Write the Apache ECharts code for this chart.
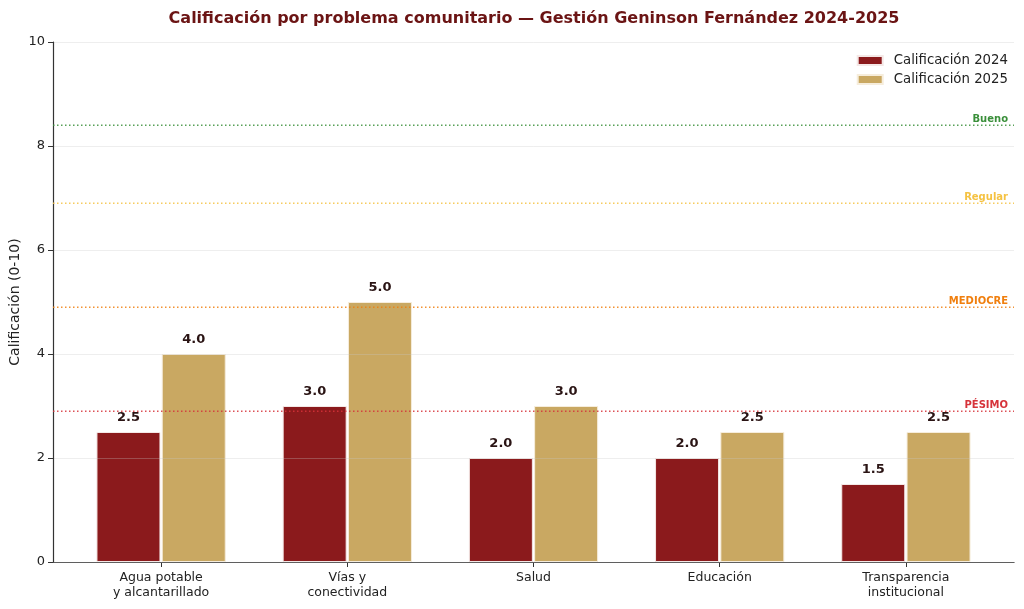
<!DOCTYPE html>
<html><head><meta charset="utf-8">
<script src="https://cdn.jsdelivr.net/npm/echarts@6/dist/echarts.min.js"></script>
<style>html,body{margin:0;padding:0;background:#fff}#c{width:1024px;height:609px}</style>
</head><body><div id="c"></div>
<script>
const categories = ['Agua potable\ny alcantarillado', 'Vías y\nconectividad', 'Salud', 'Educación', 'Transparencia\ninstitucional'];
const values2024 = [2.5, 3.0, 2.0, 2.0, 1.5];
const values2025 = [4.0, 5.0, 3.0, 2.5, 2.5];
const thresholdNames = ['Bueno', 'Regular', 'MEDIOCRE', 'PÉSIMO'];
const thresholdValues = [8.4, 6.9, 4.9, 2.9];
const thresholdColors = ['#3a8f3a', '#f5c242', '#f07f0e', '#d6333a'];
const yTicks = [0, 2, 4, 6, 8, 10];

const FONT = 'DejaVu Sans';
const chart = echarts.init(document.getElementById('c'));
const valLabel = {
  show: true, position: 'top', distance: 8,
  formatter: p => p.value.toFixed(1),
  fontFamily: FONT, fontWeight: 'bold', fontSize: 13, color: '#2a1414'
};
const thresholdSeries = thresholdValues.map((v, i) => ({
  name: 'umbral' + i, type: 'line', xAxisIndex: 0, yAxisIndex: 0, z: 6, silent: true,
  showSymbol: false, symbol: 'none', color: thresholdColors[i],
  lineStyle: { color: thresholdColors[i], type: [1.5, 2.5], width: 1.4, opacity: 0.85 },
  data: [[0, v], [1, v]],
  markLine: {
    symbol: 'none', silent: true,
    lineStyle: { width: 0, color: 'rgba(0,0,0,0)' },
    label: { show: true, position: 'insideEndTop', formatter: thresholdNames[i], distance: [6, 1],
             color: thresholdColors[i], fontFamily: FONT, fontWeight: 'bold', fontSize: 10 },
    data: [{ yAxis: v }]
  }
}));
chart.setOption({
  animation: false,
  textStyle: { fontFamily: FONT },
  title: {
    text: 'Calificación por problema comunitario — Gestión Geninson Fernández 2024-2025',
    left: 529, top: 6, textAlign: 'center',
    textStyle: { fontFamily: FONT, fontWeight: 'bold', fontSize: 16, color: '#6b1414' }
  },
  legend: {
    right: 11, top: 49, orient: 'vertical', itemWidth: 25, itemHeight: 9, itemGap: 6, icon: 'rect',
    textStyle: { fontFamily: FONT, fontSize: 13.3, color: '#222', padding: [0, 0, 0, 6] },
    data: ['Calificación 2024', 'Calificación 2025']
  },
  grid: [
    { left: 53, right: 10, top: 42, bottom: 47, outerBoundsMode: 'none' },
    { left: 68, right: 25, top: 42, bottom: 47, outerBoundsMode: 'none' }
  ],
  xAxis: [
    { type: 'value', gridIndex: 0, min: 0, max: 1, axisLabel: { show: false }, axisTick: { show: false }, splitLine: { show: false },
      axisLine: { show: true, onZero: false, lineStyle: { color: '#333', width: 1.2 } } },
    { type: 'category', gridIndex: 1, data: categories,
      axisLine: { show: false }, axisTick: { show: true, alignWithLabel: true, length: 5, lineStyle: { color: '#333' } },
      axisLabel: { fontFamily: FONT, fontSize: 12.5, color: '#222', lineHeight: 15, margin: 8 } }
  ],
  yAxis: [
    { type: 'value', gridIndex: 0, min: 0, max: 10, interval: 2, z: 5,
      name: 'Calificación (0-10)', nameLocation: 'middle', nameGap: 31, nameRotate: 90, nameMoveOverlap: false,
      nameTextStyle: { fontFamily: FONT, fontSize: 14, color: '#222' },
      axisLine: { show: true, lineStyle: { color: '#333', width: 1.2 } },
      axisTick: { show: true, length: 5, lineStyle: { color: '#333' } },
      axisLabel: { fontFamily: FONT, fontSize: 13, color: '#222', margin: 8, formatter: v => yTicks.includes(v) ? String(v) : '' },
      splitLine: { show: true, lineStyle: { color: 'rgba(200,200,200,0.3)', width: 1 } } },
    { type: 'value', gridIndex: 1, min: 0, max: 10, interval: 2, show: false }
  ],
  series: [
    { name: 'Calificación 2024', type: 'bar', xAxisIndex: 1, yAxisIndex: 1, data: values2024,
      barWidth: 64, barGap: '2%', z: 2,
      itemStyle: { color: '#8b1a1c', borderColor: '#f4e8e6', borderWidth: 1 }, label: valLabel },
    { name: 'Calificación 2025', type: 'bar', xAxisIndex: 1, yAxisIndex: 1, data: values2025,
      barWidth: 64, barGap: '2%', z: 2,
      itemStyle: { color: '#c9a862', borderColor: '#f6eddc', borderWidth: 1 }, label: valLabel },
    ...thresholdSeries
  ]
});
</script></body></html>
